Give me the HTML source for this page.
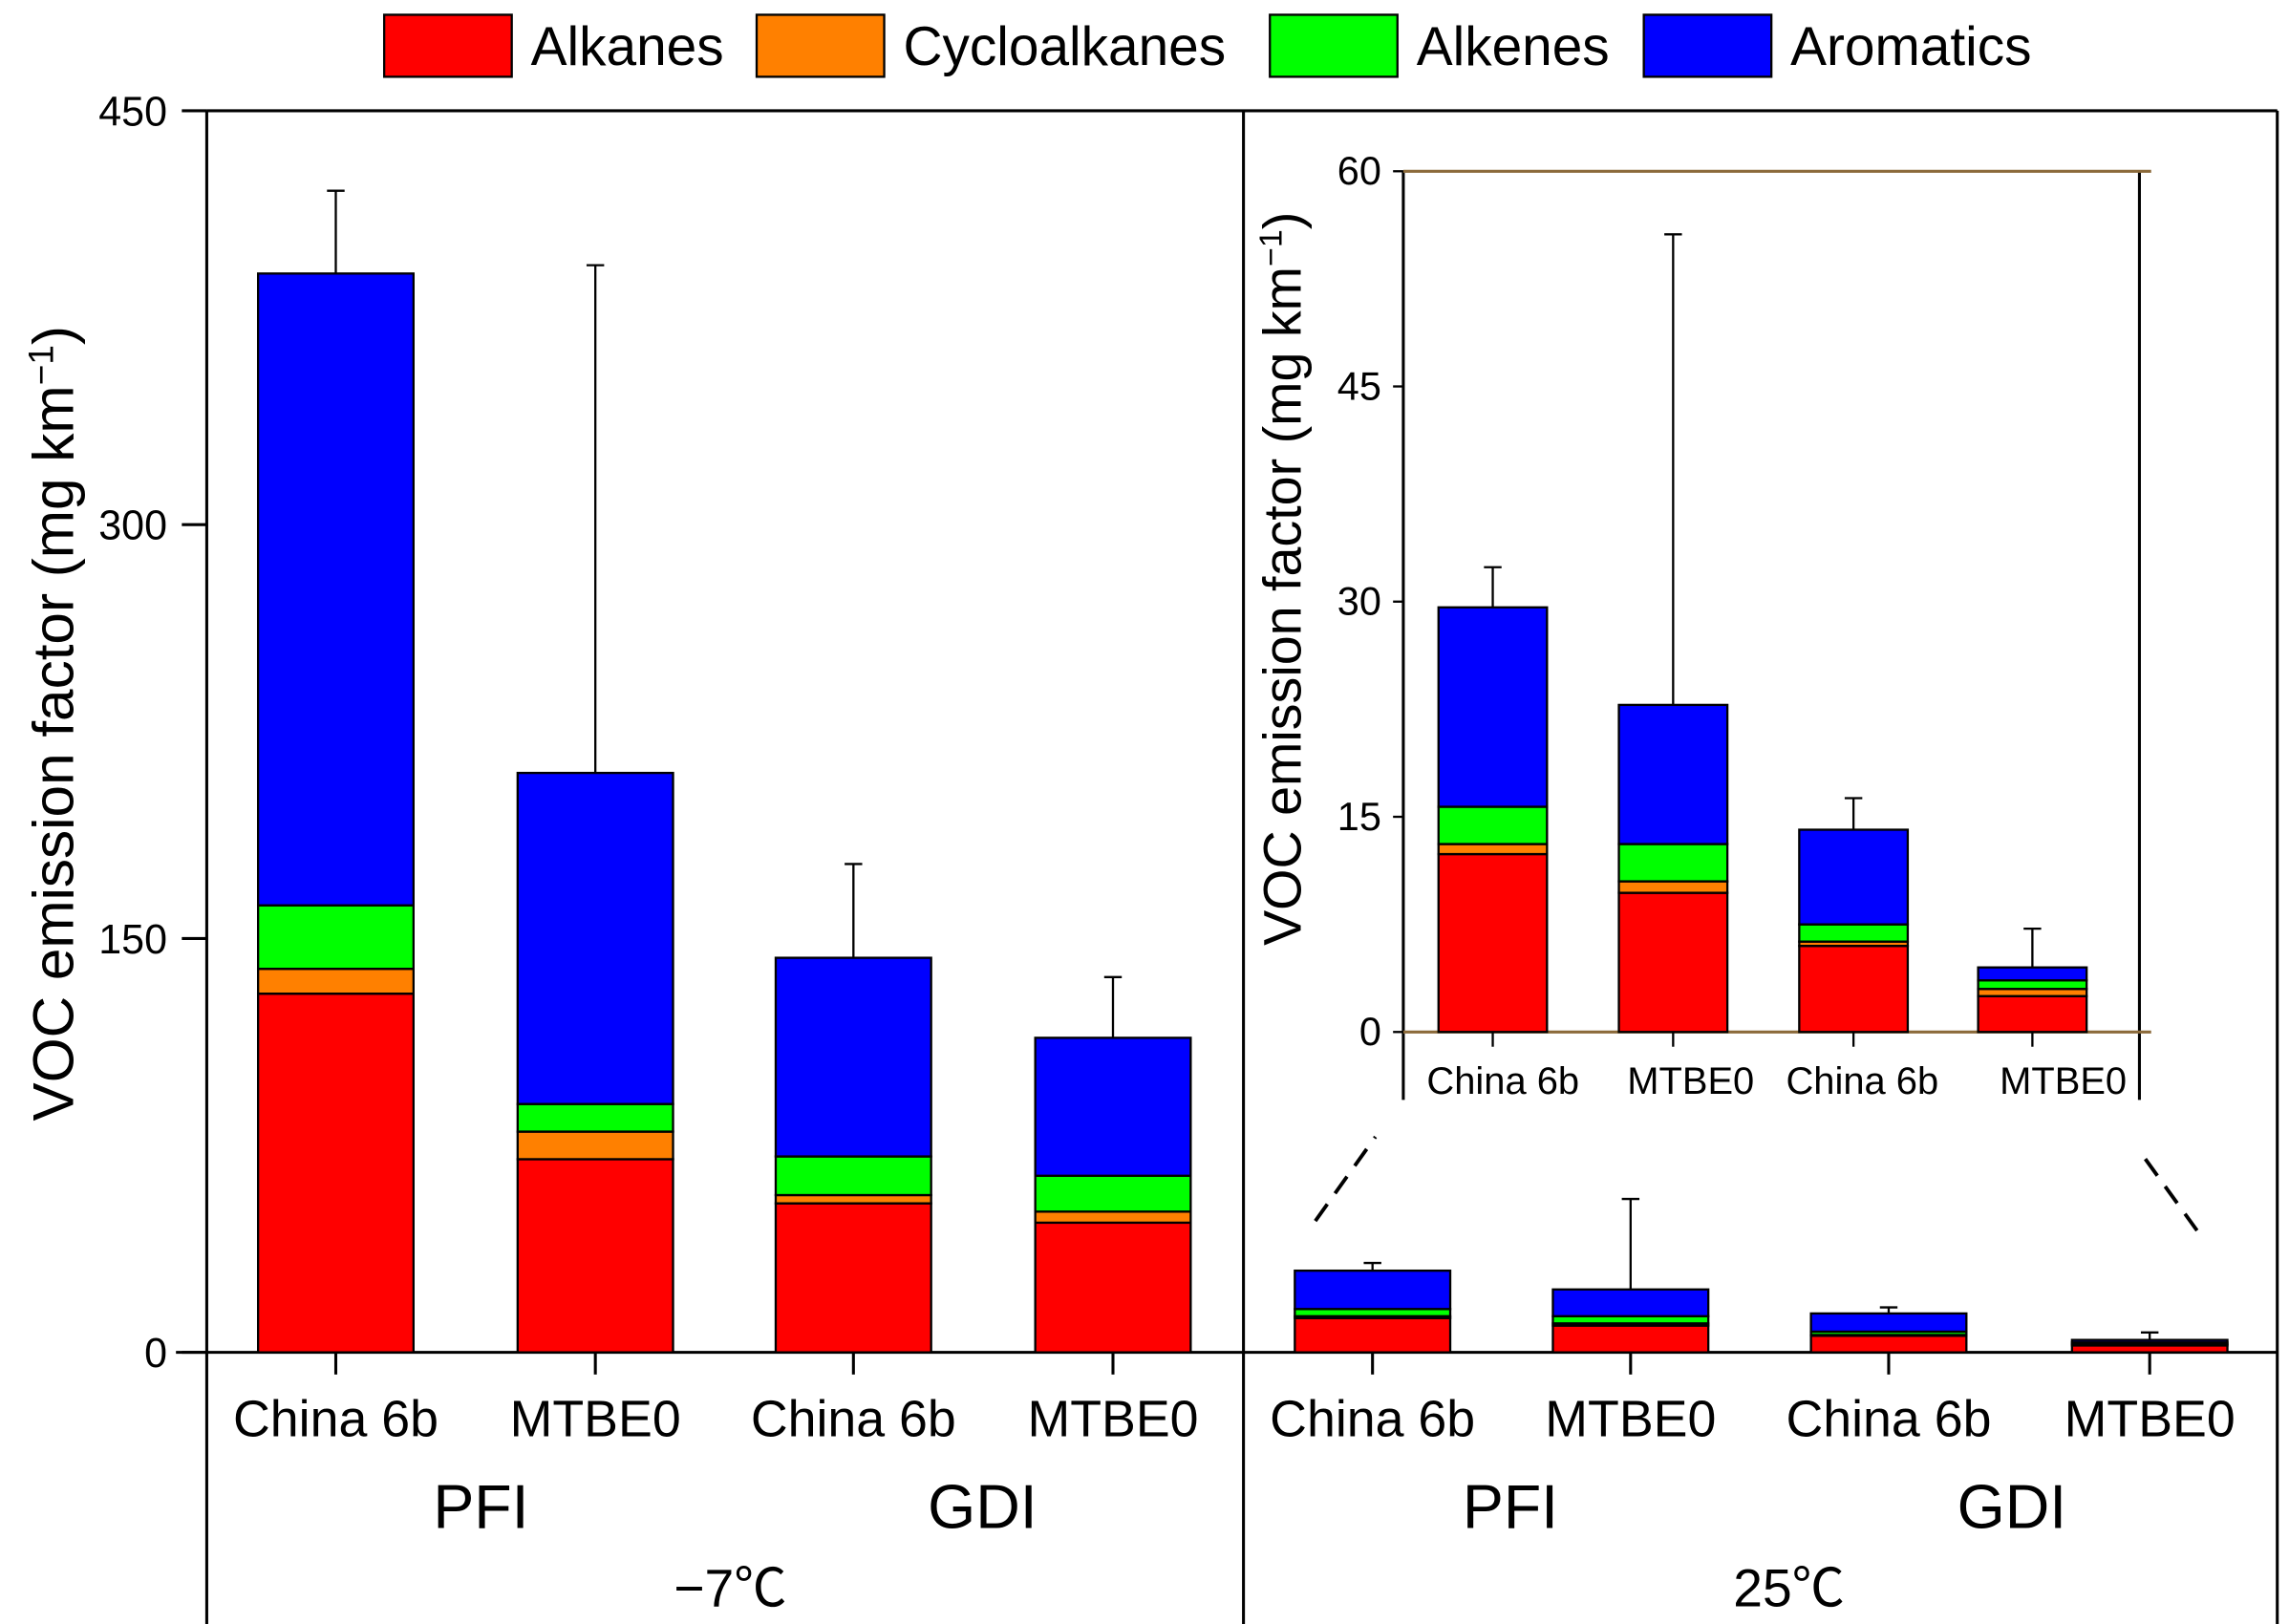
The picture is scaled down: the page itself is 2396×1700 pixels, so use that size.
<!DOCTYPE html>
<html><head><meta charset="utf-8"><style>
html,body{margin:0;padding:0;background:#fff;}
svg{display:block;}
text{font-family:"Liberation Sans","Noto Sans CJK SC",sans-serif;fill:#000;}
</style></head><body>
<svg id="chart" width="2396" height="1700" viewBox="0 0 1561 1100" preserveAspectRatio="none" xmlns="http://www.w3.org/2000/svg">
<g id="legend"></g>
<g id="main"></g>
<g id="inset"></g>
</svg>
<script>
const categories = ["China 6b","MTBE0","China 6b","MTBE0"];
const seriesNames = ["Alkanes","Cycloalkanes","Alkenes","Aromatics"];
const seriesColors = ["#ff0000","#ff8000","#00ff00","#0000ff"];
// -7C panel
const coldAlkanes = [130, 70, 54, 47];
const coldCyclo = [9, 10, 3, 4];
const coldAlkenes = [23, 10, 14, 13];
const coldAromatics = [229, 120, 72, 50];
const coldErr = [421, 394, 177, 136];
// 25C panel
const warmAlkanes = [12.4, 9.7, 6.0, 2.5];
const warmCyclo = [0.7, 0.8, 0.3, 0.5];
const warmAlkenes = [2.6, 2.6, 1.2, 0.6];
const warmAromatics = [13.9, 9.7, 6.6, 0.9];
const warmErr = [32.4, 55.6, 16.3, 7.2];
const mainTicks = [0,150,300,450];
const insetTicks = [0,15,30,45,60];

const NS="http://www.w3.org/2000/svg";
function mk(parent,tag,attrs,txt){const e=document.createElementNS(NS,tag);for(const k in attrs)e.setAttribute(k,attrs[k]);if(txt!==undefined)e.textContent=txt;parent.appendChild(e);return e;}

// legend
const lg=document.getElementById('legend');
const lgBox=[262,516,866,1121];
seriesNames.forEach((n,i)=>{
  const r=mk(lg,'rect',{x:lgBox[i],y:10,width:87,height:42,fill:seriesColors[i],stroke:'#000','stroke-width':1.5});
  
  
  const t=mk(lg,'text',{x:lgBox[i]+100,y:44,'font-size':37},n);
  
  
});

// main axes
const m=document.getElementById('main');
const y0=916, y450=75;
const yMain=v=>y0-(v/450)*(y0-y450);
mk(m,'line',{x1:141,y1:75,x2:1553,y2:75,stroke:'#000','stroke-width':2});
mk(m,'line',{x1:141,y1:75,x2:141,y2:1100,stroke:'#000','stroke-width':2});
mk(m,'line',{x1:848,y1:75,x2:848,y2:1100,stroke:'#000','stroke-width':2});
mk(m,'line',{x1:1553,y1:75,x2:1553,y2:1100,stroke:'#000','stroke-width':2});
mk(m,'line',{x1:120,y1:y0,x2:1553,y2:y0,stroke:'#000','stroke-width':2});
mainTicks.forEach(v=>{
  mk(m,'line',{x1:124,y1:yMain(v),x2:141,y2:yMain(v),stroke:'#000','stroke-width':2});
  const t=mk(m,'text',{x:114,y:yMain(v)+10,'font-size':28,'text-anchor':'end'},v);
  
  
});
const yt=mk(m,'text',{x:0,y:0,'font-size':39,'text-anchor':'middle',transform:'translate(50,490) rotate(-90)'});
yt.innerHTML='VOC emission factor (mg km<tspan dy="-14" font-size="24">−1</tspan><tspan dy="14">)</tspan>';



function drawStack(g,cx,w,yf,vals,err,prefix){
  let acc=0;
  vals.forEach((v,i)=>{
    const top=yf(acc+v), bot=yf(acc);
    const r=mk(g,'rect',{x:cx-w/2,y:top,width:w,height:Math.max(0,bot-top),fill:seriesColors[i],stroke:'#000','stroke-width':1.5});
    
    
    acc+=v;
  });
  const e=mk(g,'path',{d:`M${cx},${yf(acc)} V${yf(err)} M${cx-6},${yf(err)} H${cx+6}`,stroke:'#000','stroke-width':1.5,fill:'none'});
  
  
}
const coldX=[229,406,582,759], warmX=[936,1112,1288,1466];
categories.forEach((c,i)=>{
  drawStack(m,coldX[i],106,yMain,[coldAlkanes[i],coldCyclo[i],coldAlkenes[i],coldAromatics[i]],coldErr[i],'cold-bar-'+i);
  drawStack(m,warmX[i],106,yMain,[warmAlkanes[i],warmCyclo[i],warmAlkenes[i],warmAromatics[i]],warmErr[i],'warm-bar-'+i);
  [coldX[i],warmX[i]].forEach(x=>{
    mk(m,'line',{x1:x,y1:y0,x2:x,y2:931,stroke:'#000','stroke-width':2});
    const t=mk(m,'text',{x:x,y:973,'font-size':35,'text-anchor':'middle'},c);
    
    
  });
});
[["PFI",328],["GDI",670],["PFI",1030],["GDI",1372]].forEach(([s,x])=>{
  const t=mk(m,'text',{x:x,y:1035,'font-size':42,'text-anchor':'middle'},s);
  
  
});
[["−7℃",498],["25℃",1220]].forEach(([s,x])=>{
  const t=mk(m,'text',{x:x,y:1088,'font-size':36,'text-anchor':'middle'},s);
  
  
});
mk(m,'line',{x1:897,y1:827,x2:938,y2:770,stroke:'#000','stroke-width':2.5,'stroke-dasharray':'14,9'});
mk(m,'line',{x1:1463,y1:785,x2:1503,y2:840,stroke:'#000','stroke-width':2.5,'stroke-dasharray':'14,9'});

// inset
const g=document.getElementById('inset');
mk(g,'rect',{x:855,y:95,width:640,height:670,fill:'#fff'});
const i0=699,i60=116;
const yIn=v=>i0-(v/60)*(i0-i60);
mk(g,'line',{x1:957,y1:116,x2:957,y2:745,stroke:'#000','stroke-width':2});
mk(g,'line',{x1:1459,y1:116,x2:1459,y2:745,stroke:'#000','stroke-width':2});
mk(g,'line',{x1:957,y1:116,x2:1467,y2:116,stroke:'#8b6a3a','stroke-width':2});
mk(g,'line',{x1:957,y1:i0,x2:1467,y2:i0,stroke:'#8b6a3a','stroke-width':2});
insetTicks.forEach(v=>{
  mk(g,'line',{x1:950,y1:yIn(v),x2:957,y2:yIn(v),stroke:'#000','stroke-width':1.5});
  const t=mk(g,'text',{x:942,y:yIn(v)+9,'font-size':27,'text-anchor':'end'},v);
  
  
});
const iyt=mk(g,'text',{x:0,y:0,'font-size':36,'text-anchor':'middle',transform:'translate(887,392) rotate(-90)'});
iyt.innerHTML='VOC emission factor (mg km<tspan dy="-13" font-size="22">−1</tspan><tspan dy="13">)</tspan>';


const inX=[1018,1141,1264,1386];
const inLX=[1025,1153,1270,1407];
categories.forEach((c,i)=>{
  drawStack(g,inX[i],74,yIn,[warmAlkanes[i],warmCyclo[i],warmAlkenes[i],warmAromatics[i]],warmErr[i],'inset-bar-'+i);
  mk(g,'line',{x1:inX[i],y1:i0,x2:inX[i],y2:709,stroke:'#000','stroke-width':1.5});
  const t=mk(g,'text',{x:inLX[i],y:741,'font-size':26,'text-anchor':'middle'},c);
  
  
});
</script>
</body></html>
